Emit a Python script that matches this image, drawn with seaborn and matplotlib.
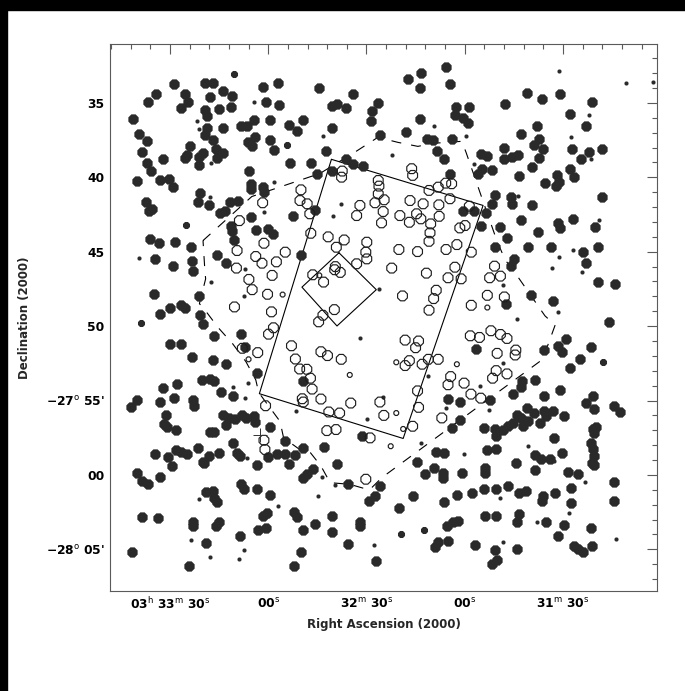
import numpy as np
import pandas as pd
import matplotlib
matplotlib.use("Agg")
import matplotlib.pyplot as plt
import seaborn as sns
from matplotlib.ticker import FixedLocator, MultipleLocator
from matplotlib.transforms import ScaledTranslation
from matplotlib.patches import Rectangle

sns.set_theme(style="white")
plt.rcParams["font.family"] = ["DejaVu Sans"]
plt.rcParams["mathtext.fontset"] = "dejavusans"
plt.rcParams["mathtext.default"] = "bf"

# Positions: RA in seconds of time after 3h, Dec in arcmin south of -27 deg.
# Filled symbols: sources outside the deep area (large / medium / small)
big_ra = [2021.4, 2020.2, 2019.4, 2017.1, 2018.5, 2016.9, 2015.8, 2016.7, 2014.4, 2013.1,
          2017.4, 2016.4, 2015.4, 2012.0, 2010.2, 2009.2, 2008.8, 2006.6, 2005.3, 2004.4,
          2003.9, 2005.4, 2004.7, 2001.1, 2001.1, 1999.9, 2000.8, 2001.5, 1998.0, 1999.3,
          1996.8, 1997.8, 1993.9, 1991.0, 1995.0, 1991.4, 1999.4, 1998.8, 1998.7, 1999.2,
          1997.0, 1996.0, 1993.9, 1995.7, 1993.7, 1988.3, 1986.6, 1984.3, 1986.1, 1984.8,
          1984.0, 1985.9, 1985.1, 1985.1, 1981.5, 1981.3, 1981.7, 1980.8, 1979.3, 1979.6,
          1978.3, 1977.0, 1976.6, 1973.6, 1971.3, 1973.2, 1969.4, 1967.0, 1965.2, 1964.4,
          1962.5, 1960.5, 1960.5, 1958.9, 1956.3, 1956.1, 1960.5, 1965.7, 1972.5, 1985.4,
          1994.7, 1993.2, 1991.7, 1989.2, 1991.4, 1991.0, 1983.7, 1980.0, 1978.5,
          1954.2, 1946.4, 1948.4, 1948.7, 1937.2, 1933.4, 1933.7, 1925.7, 1924.5, 1922.7,
          1918.6, 1923.0, 1920.5, 1918.9, 1933.7, 1938.0, 1945.9, 1931.6, 1929.6, 1923.8,
          1928.6, 1926.3, 1954.2, 1951.2, 1924.5, 1915.1, 1913.1, 1914.8, 1911.8, 1915.9,
          1908.0, 1908.0, 1905.7, 1903.7, 1907.7, 1901.1, 1896.3, 1890.9, 1887.9, 1881.1,
          1883.1, 1898.0, 1902.8, 1897.4, 1898.8, 1896.0, 1897.3, 1899.6, 1903.5, 1895.5,
          1891.8, 1891.2, 1892.2, 1887.9, 1886.6, 1887.4, 1884.5, 1882.0, 1878.0, 1878.2,
          1899.6, 1902.9, 1905.9, 1905.5, 1910.8, 1911.8, 1913.5, 1917.1, 1920.5, 1915.1,
          1909.3, 1897.6, 1891.6, 1890.9, 1886.9, 1880.2,
          2016.2, 2013.3, 2008.6, 2003.7, 1995.5, 1990.3, 1969.9, 1910.9, 1907.1, 1900.8,
          1893.8, 1884.0, 1879.3, 2014.6, 2009.1, 2003.4, 2003.1, 1993.0, 1904.9, 1906.0,
          1883.1, 1879.3, 1874.1, 2014.8, 2001.0, 2009.9, 2013.0, 2006.6, 2005.3, 1907.3,
          1892.9, 1899.7, 1999.9, 2000.7, 1876.0, 1996.6, 1988.2, 1889.1, 2010.0, 2006.7,
          1987.1, 2003.4, 1895.7, 1891.5, 1890.2, 1881.5, 1916.5, 1996.8, 1992.8, 1888.0,
          1884.8, 2000.2, 1997.7, 1996.6, 1983.5, 2007.7, 2012.1, 1969.5, 1902.5, 1898.6,
          1902.8, 2008.8, 2003.1, 2002.8, 2012.9, 2020.0, 2021.9, 1994.4, 1990.6, 1925.0,
          1921.3, 1912.3, 1905.2, 1895.7, 1890.8, 1880.7, 1883.1, 1874.4, 1872.5, 2011.1,
          2011.9, 2010.8, 2008.3, 1993.9, 1991.9, 1990.0, 1987.9, 1986.8, 1984.3, 1984.0,
          1993.0, 1903.9, 1900.9, 1902.8, 1900.6, 1898.9, 1895.9, 1895.1, 1893.2, 1889.7,
          1880.6, 1921.3, 1997.7, 1996.6, 1979.3, 1924.0, 1914.2, 1910.9, 1908.4, 1906.8,
          1910.4, 1902.2, 1905.2, 1897.0, 1892.7, 1880.9, 1879.9, 1880.4, 1951.5, 2001.5,
          2006.6, 2008.0, 2014.6, 2010.6, 2004.8, 1994.9, 1998.2, 1999.9, 1990.8, 1989.5,
          1988.6, 1977.3, 1974.8, 1974.8, 1971.7, 1969.3, 1963.0, 1928.9, 1926.2, 1913.3,
          1910.4, 1890.4, 1898.6, 1881.5, 1880.9, 1880.6, 1881.2, 2009.4, 2020.0, 2018.6,
          2016.8, 2012.9, 1999.5, 1983.5, 1980.2, 1973.7, 1969.5, 1968.2, 1966.3, 1958.9,
          1934.7, 1932.2, 1929.3, 1926.5, 1926.5, 1920.8, 1913.9, 1913.9, 1904.4, 1898.6,
          1896.8, 1894.0, 1888.6, 1885.3, 1880.4, 1988.4, 1987.3, 1983.5, 1955.5, 1945.9,
          1917.7, 1914.2, 1910.4, 1906.9, 1903.3, 1901.3, 1896.2, 1892.4, 1887.5, 1874.4,
          1949.1, 1947.3, 1999.1, 1996.8, 1996.6, 1995.5, 1979.5, 1922.4, 1926.2, 1935.7,
          1896.4, 1887.5, 1874.4, 2018.6, 2013.5, 2003.1, 2002.9, 1996.0, 1994.9, 1981.5,
          1980.4, 1972.0, 1971.3, 1960.6, 1951.9, 1952.1, 1940.1, 1923.5, 1925.3, 1922.1,
          1913.9, 1910.6, 1903.3, 1895.1, 1889.7, 1983.2, 1980.8, 1969.3, 1965.7, 1960.4,
          1988.6, 1903.9, 1891.5, 1881.3, 1999.0, 1955.5, 1929.2, 1928.1, 1925.1, 1917.0,
          1910.7, 1904.1, 1886.6, 1885.3, 1884.0, 1881.2, 2021.7, 1969.9, 2004.2, 1972.0,
          1947.2, 1911.8, 1910.1]
big_dec = [36.10, 40.23, 37.06, 37.56, 38.30, 39.04, 39.58, 34.97, 34.37, 40.16,
           41.69, 42.28, 42.12, 38.80, 40.12, 40.66, 33.76, 35.34, 34.41, 34.93,
           37.92, 38.71, 38.53, 38.64, 39.20, 38.39, 41.07, 41.67, 41.85, 33.63,
           33.63, 34.60, 34.21, 34.55, 35.38, 35.27, 35.49, 35.90, 36.66, 37.18,
           37.51, 38.07, 38.37, 38.68, 36.66, 36.57, 36.57, 36.12, 37.65, 37.92,
           37.29, 39.60, 40.48, 40.77, 40.66, 41.00, 33.92, 34.93, 36.17, 37.47,
           38.14, 33.65, 35.11, 36.46, 36.86, 39.04, 36.12, 39.04, 39.76, 34.03,
           38.26, 36.66, 35.22, 35.04, 35.34, 38.75, 39.60, 42.18, 42.57, 42.68,
           42.39, 42.28, 41.67, 41.61, 43.24, 43.58, 43.53, 43.47, 43.80,
           34.37, 35.00, 35.56, 36.21, 33.40, 33.02, 33.99, 32.60, 33.76, 35.27,
           35.27, 35.83, 35.98, 36.35, 36.10, 36.96, 37.18, 37.45, 37.47, 37.40,
           38.26, 38.80, 39.13, 39.25, 39.76, 38.41, 38.57, 39.42, 39.54, 39.76,
           38.03, 38.79, 38.64, 38.53, 35.04, 34.30, 34.75, 34.43, 35.76, 34.95,
           36.52, 36.57, 37.06, 37.45, 37.85, 38.07, 38.68, 39.31, 39.94, 40.39,
           39.87, 40.32, 40.55, 39.42, 39.99, 38.07, 38.80, 38.30, 38.12, 41.34,
           41.89, 42.84, 41.34, 41.78, 41.22, 41.78, 42.41, 42.23, 42.23, 43.24,
           43.31, 43.65, 43.09, 43.42, 42.79, 43.36,
           44.14, 44.43, 44.36, 44.70, 45.19, 44.21, 45.19, 44.65, 44.10, 44.65,
           44.65, 45.03, 44.65, 45.52, 45.99, 45.63, 46.30, 45.77, 45.48, 45.99,
           45.77, 47.04, 47.19, 47.86, 47.97, 48.78, 49.20, 48.55, 48.78, 48.49,
           48.33, 47.88, 49.87, 49.27, 49.71, 50.67, 50.56, 50.87, 51.18, 51.18,
           51.38, 52.10, 51.61, 51.32, 51.76, 51.38, 51.54, 52.27, 52.54, 52.79,
           52.21, 53.61, 53.57, 53.66, 53.12, 53.90, 54.17, 53.66, 53.66, 53.61,
           54.06, 54.84, 54.95, 55.35, 55.10, 54.95, 55.46, 54.46, 54.68, 54.88,
           55.10, 54.95, 54.55, 54.72, 54.26, 54.72, 55.17, 55.35, 55.79, 56.00,
           56.55, 56.77, 56.95, 55.95, 56.17, 56.24, 55.95, 56.17, 56.06, 56.46,
           56.66, 56.00, 55.50, 56.17, 56.40, 55.84, 55.73, 56.06, 55.73, 56.06,
           55.57, 56.28, 57.11, 57.11, 56.77, 56.84, 56.84, 56.91, 56.95, 56.73,
           57.40, 56.73, 56.51, 56.51, 57.51, 56.91, 56.77, 57.18, 57.40, 58.18,
           58.47, 58.33, 58.62, 58.78, 58.62, 58.51, 58.73, 59.14, 57.84, 58.51,
           58.73, 58.62, 57.71, 58.62, 58.67, 58.22, 58.11, 58.47, 58.51, 58.33,
           58.29, 58.51, 58.69, 57.84, 58.29, 58.73, 59.18, 59.40, 59.85, 60.41,
           60.63, 60.12, 59.18, 59.34, 58.78, 59.29, 60.18, 59.96, 59.63, 59.29,
           59.14, 59.92, 59.56, 59.85, 60.18, 59.89, 59.56, 59.85, 59.18, 59.69,
           58.91, 58.96, 59.78, 59.96, 59.36, 60.63, 60.96, 60.96, 60.63, 60.74,
           61.19, 60.96, 60.96, 60.74, 61.19, 61.07, 61.41, 61.23, 60.90, 60.45,
           61.74, 61.41, 61.14, 61.07, 61.52, 61.85, 61.34, 61.36, 61.79, 61.41,
           61.74, 61.90, 61.74, 62.86, 62.92, 63.19, 63.41, 63.41, 63.19, 62.79,
           62.57, 62.52, 62.81, 62.75, 63.19, 63.41, 62.19, 63.19, 63.41, 63.08,
           62.75, 62.75, 62.63, 63.19, 63.37, 63.68, 63.59, 63.68, 63.32, 63.86,
           64.08, 63.19, 64.08, 63.59, 64.57, 64.64, 64.86, 64.53, 64.42, 64.71,
           65.02, 64.97, 64.75, 64.97, 65.15, 64.80, 65.20, 65.20, 66.09, 66.09,
           65.80, 65.98, 65.69]
mid_ra = [2005.1, 1990.5, 1974.2, 2018.7, 1877.7, 1932.4, 1939.5]
mid_dec = [43.18, 33.05, 37.85, 49.78, 52.39, 63.68, 63.99]
small_ra = [2001.7, 2001.1, 1997.4, 1984.3, 1963.4, 1957.9, 1960.3, 1978.2, 1981.3, 1997.8,
            1929.4, 1919.6, 1942.1, 1891.2, 1882.1, 1887.7, 1881.3, 1870.9, 1917.1, 1903.7,
            1878.9, 1886.9, 1891.3, 2019.5, 1987.0, 1893.5, 1884.2, 1908.2, 1997.4, 1987.5,
            1904.1, 1891.5, 1951.9, 1908.2, 1990.6, 1986.2, 1915.3, 1987.0, 1945.0, 1971.5,
            1925.7, 1912.6, 1900.8, 1920.2, 1933.3, 1986.4, 1892.6, 1963.6, 1959.5, 1883.3,
            1909.3, 1964.7, 1977.0, 2001.2, 1897.9, 1888.3, 2003.7, 1987.3, 1947.7, 1908.2,
            1873.9, 1997.7, 1988.9, 1946.1, 1949.7, 1931.1, 1862.5]
small_dec = [36.23, 36.73, 39.04, 34.95, 37.25, 41.78, 42.57, 40.32, 42.30, 41.34,
             36.57, 37.22, 38.48, 32.84, 35.78, 37.29, 38.80, 33.63, 39.13, 41.27,
             42.84, 44.88, 45.37, 45.41, 46.17, 46.08, 46.37, 47.26, 47.04, 47.97,
             49.49, 49.07, 50.78, 52.50, 54.06, 53.83, 54.01, 54.81, 54.79, 55.73,
             55.50, 55.66, 58.07, 58.62, 57.84, 58.85, 59.07, 60.14, 60.67, 60.47,
             61.56, 61.41, 62.08, 61.63, 63.15, 62.57, 64.37, 65.04, 64.68, 64.48,
             64.33, 65.53, 65.64, 47.53, 56.22, 53.35, 33.61]

# Open symbols: sources inside the deep area
deep_ra = [1981.7, 1988.8, 1970.0, 1970.3, 1968.1, 1967.3, 1967.0, 1961.7, 1957.6, 1957.4,
           1936.2, 1935.9, 1946.4, 1946.2, 1946.4, 1947.4, 1944.6, 1944.9, 1952.0, 1953.0,
           1945.4, 1936.7, 1932.7, 1930.9, 1928.1, 1925.8, 1924.0, 1924.5, 1927.9, 1939.8,
           1936.9, 1934.7, 1933.4, 1930.4, 1927.8, 1930.6, 1921.5, 1919.9, 1918.6,
           1981.3, 1989.5, 1983.8, 1974.8, 1959.2, 1949.9, 1950.2, 1940.1, 1934.4, 1930.9,
           1925.7, 1922.4, 1918.0, 1956.8, 1981.9, 1977.5, 1989.7, 1959.5, 1959.7, 1958.0,
           1953.0, 1949.9, 1942.3, 1931.7, 1923.0, 1910.9, 1966.4, 1985.9, 1978.8, 1963.1,
           1925.1, 1921.1, 1912.4, 1909.1, 1928.7, 1939.0, 1984.9, 1980.2, 1990.3, 1913.1,
           1907.9, 1929.5, 1918.0, 1930.9, 1959.8, 1979.0, 1963.3, 1964.6, 1978.4, 1979.9,
           1918.3, 1915.5, 1912.0, 1909.1, 1907.1, 1938.2, 1934.1, 1935.0, 1987.9, 1983.2,
           1972.9, 1963.9, 1961.9, 1957.7, 1971.7, 1910.1, 1904.4, 1904.6, 1931.1, 1928.1,
           1936.9, 1938.2, 1933.0, 1968.2, 1970.4, 1910.4, 1907.1, 1911.5, 1924.3, 1967.1,
           1925.1, 1920.2, 1966.6, 1969.6, 1969.3, 1963.9, 1954.8, 1945.9, 1934.4, 1918.1,
           1915.1, 1980.8, 1961.5, 1958.2, 1944.7, 1934.1, 1927.0, 1962.1, 1959.3, 1948.9,
           1935.9, 1981.3, 1981.0, 1950.2]
deep_dec = [41.71, 42.91, 40.84, 41.56, 41.78, 42.45, 43.76, 44.00, 39.99, 39.58,
            39.42, 39.87, 40.21, 40.59, 41.11, 41.71, 41.51, 42.30, 41.89, 42.57,
            43.06, 41.56, 41.78, 40.88, 40.66, 40.39, 40.43, 41.44, 41.85, 42.57,
            43.02, 42.45, 42.79, 43.13, 42.62, 43.73, 43.40, 43.24, 41.94,
            44.43, 44.92, 45.32, 45.03, 44.70, 44.36, 45.03, 44.85, 44.99, 44.30,
            44.85, 44.52, 45.03, 44.21, 45.77, 45.68, 46.10, 46.00, 46.21, 46.39,
            45.81, 45.48, 46.10, 46.44, 46.04, 45.97, 46.55, 46.86, 46.59, 47.04,
            46.75, 46.82, 46.75, 46.64, 47.59, 47.97, 47.55, 47.86, 48.71, 47.93,
            48.04, 48.15, 48.60, 48.93, 48.89, 49.04, 49.27, 49.71, 50.11, 50.54,
            50.65, 50.76, 50.31, 50.56, 50.83, 50.94, 51.00, 51.45, 51.49, 51.78,
            51.32, 51.72, 51.98, 52.23, 52.21, 51.83, 51.61, 51.94, 52.23, 52.23,
            52.32, 52.65, 52.56, 52.90, 52.88, 52.99, 53.21, 53.50, 53.39, 53.50,
            53.94, 53.83, 54.23, 54.88, 55.10, 54.90, 55.17, 55.10, 54.35, 54.57,
            54.84, 55.35, 55.77, 55.84, 56.00, 55.46, 56.17, 57.02, 56.95, 57.51,
            56.73, 57.67, 58.29, 60.29]
deep_small_ra = [1964.4, 1975.6, 1913.1, 1922.4, 1940.9, 1986.0, 1955.1, 1940.9, 1938.8, 1942.6]
deep_small_dec = [46.59, 47.88, 48.75, 52.56, 52.43, 52.23, 53.28, 55.84, 56.91, 58.07]

# Field outlines
rect_ra = [1960.7, 1914.4, 1938.8, 1982.7, 1960.7]
rect_dec = [38.79, 41.89, 57.55, 54.54, 38.79]
diamond_ra = [1958.4, 1947.0, 1959.0, 1969.7, 1958.4]
diamond_dec = [45.07, 47.55, 49.99, 47.38, 45.07]
outline_ra = [1999.9, 1985.0, 1964.2, 1953.2, 1946.5, 1940.4, 1934.3, 1930.0, 1920.9, 1919.6,
              1914.8, 1910.2, 1907.7, 1903.8, 1895.5, 1892.4, 1896.2, 1945.3, 1949.1, 1955.1,
              1961.1, 1963.9, 1967.1, 1970.4, 1975.3, 1976.4, 1982.9, 1983.8, 1986.8, 1990.8,
              1995.3, 1999.1, 2001.0, 1999.1, 1999.3, 1999.9]
outline_dec = [44.25, 41.29, 39.74, 38.26, 37.31, 37.65, 37.92, 37.72, 37.58, 38.32,
               41.36, 44.25, 45.53, 46.68, 49.31, 49.93, 52.23, 60.18, 61.01, 60.63,
               60.52, 59.40, 58.51, 58.29, 57.51, 56.40, 54.46, 53.61, 52.39, 51.20,
               50.09, 48.98, 48.49, 46.82, 46.39, 44.25]
center_ra = [1982.4]
center_dec = [57.29]

ra_ticks = [2010, 1980, 1950, 1920, 1890]
ra_labels = [r"03$^{\rm h}$ 33$^{\rm m}$ 30$^{\rm s}$", r"00$^{\rm s}$",
             r"32$^{\rm m}$ 30$^{\rm s}$", r"00$^{\rm s}$", r"31$^{\rm m}$ 30$^{\rm s}$"]
ra_label_shift = [-14, -3, -2, -3, -1]
dec_ticks = [35, 40, 45, 50, 55, 60, 65]
dec_labels = ["35", "40", "45", "50", r"$-$27$^{\rm o}$ 55'", "00", r"$-$28$^{\rm o}$ 05'"]

W, H = 685, 691
fig = plt.figure(figsize=(W / 100, H / 100), dpi=100)
fig.patch.set_facecolor("white")
ax = fig.add_axes([110 / W, 1 - 591 / H, 547 / W, 547 / H])
ax.set_facecolor("white")

ink = "#2a2a2a"
for xs, ys, s in [(big_ra, big_dec, 64), (mid_ra, mid_dec, 30), (small_ra, small_dec, 10)]:
    sns.scatterplot(x=xs, y=ys, s=s, marker="8", color=ink, edgecolor=ink, linewidth=0,
                    legend=False, ax=ax, zorder=3)
for xs, ys, s in [(deep_ra, deep_dec, 58), (deep_small_ra, deep_small_dec, 14)]:
    sns.scatterplot(x=xs, y=ys, s=s, marker="8", facecolors="none", edgecolor="#1e1e1e",
                    linewidth=0.85, legend=False, ax=ax, zorder=3)
    ax.collections[-1].set_facecolor("none")
sns.scatterplot(x=center_ra, y=center_dec, s=100, marker="+", color="#333333", linewidth=0.7,
                legend=False, ax=ax, zorder=3)

ax.plot(rect_ra, rect_dec, color="black", lw=0.8, zorder=2)
ax.plot(diamond_ra, diamond_dec, color="black", lw=0.8, zorder=2)
ax.plot(outline_ra, outline_dec, color="black", lw=0.8, dashes=(9, 9), zorder=2)

ax.set_xlim(2028.3, 1861.3)
ax.set_ylim(67.8, 31.04)

ax.xaxis.set_major_locator(FixedLocator(ra_ticks))
ax.xaxis.set_minor_locator(MultipleLocator(6))
ax.set_xticklabels(ra_labels)
ax.yaxis.set_major_locator(FixedLocator(dec_ticks))
ax.yaxis.set_minor_locator(MultipleLocator(1))
ax.set_yticklabels(dec_labels)

for lab, dx in zip(ax.get_xticklabels(), ra_label_shift):
    lab.set_transform(lab.get_transform() + ScaledTranslation(dx / 100, 0, fig.dpi_scale_trans))

frame = "#5a5a5a"
ax.tick_params(which="both", direction="in", top=True, right=True, color=frame, width=0.8,
               labelsize=8.8, labelcolor="black")
ax.tick_params(which="major", length=7.5, pad=4)
ax.tick_params(which="minor", length=3.6)
for lab in ax.get_xticklabels() + ax.get_yticklabels():
    lab.set_fontweight("bold")
for sp in ax.spines.values():
    sp.set_color(frame)
    sp.set_linewidth(0.8)

ax.set_xlabel("Right Ascension (2000)", fontsize=8.5, fontweight="bold", labelpad=4)
ax.set_ylabel("Declination (2000)", fontsize=8.5, fontweight="bold")
ax.yaxis.set_label_coords(-0.145, 0.5)

fig.patches.append(Rectangle((0, 1 - 10 / H), 1, 10 / H, transform=fig.transFigure,
                             color="black", zorder=10))
fig.patches.append(Rectangle((0, 0), 7 / W, 1, transform=fig.transFigure,
                             color="black", zorder=10))

fig.savefig("out.png", dpi=100, facecolor="white")
